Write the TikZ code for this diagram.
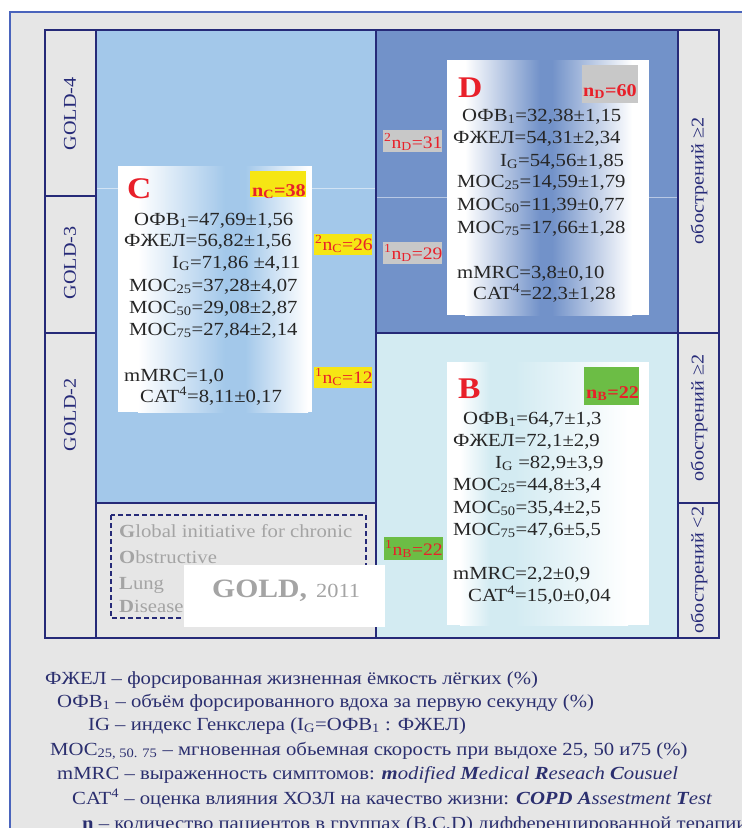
\documentclass[tikz,border=0pt]{standalone}
\usepackage{fontspec}
\setmainfont{Liberation Serif}[FakeStretch=1.12]
\definecolor{bggray}{HTML}{E6E6E6}
\definecolor{framecol}{HTML}{4A64BC}
\definecolor{navy}{HTML}{262A78}
\definecolor{cblue}{HTML}{A3C8EA}
\definecolor{dblue}{HTML}{7292C9}
\definecolor{bcyan}{HTML}{D3EBF2}
\definecolor{ylw}{HTML}{F6E614}
\definecolor{gry}{HTML}{C8C8C8}
\definecolor{grn}{HTML}{6CBD45}
\definecolor{redc}{HTML}{E8202A}
\definecolor{txtdark}{HTML}{262626}
\definecolor{goldgray}{HTML}{A4A4A4}
\definecolor{legcol}{HTML}{2B2F6F}
\tikzset{
  gridline/.style={draw=navy, line width=1.6},
  txt/.style={font=\fontsize{18.5}{20}\selectfont, text=txtdark, inner sep=0, anchor=base west},
  bigletter/.style={font=\fontsize{30}{32}\selectfont\bfseries, text=redc, inner sep=0, anchor=base west},
  nlab/.style={font=\fontsize{18}{20}\selectfont\bfseries, text=redc, inner sep=0, anchor=base west},
  sidelab/.style={font=\fontsize{17.5}{19}\selectfont, text=redc, inner sep=0, anchor=base west},
  rotlab/.style={font=\fontsize{18}{20}\selectfont, text=navy, inner sep=0, rotate=90},
  goldtxt/.style={font=\fontsize{18.5}{20}\selectfont, text=goldgray, inner sep=0, anchor=base west},
  legtxt/.style={font=\fontsize{18.5}{20}\selectfont, text=legcol, inner sep=0, anchor=base west}
}
\begin{document}
\begin{tikzpicture}[x=1pt,y=-1pt]
\useasboundingbox (0,0) rectangle (742,828);
\clip (0,0) rectangle (742,828);
\fill[white] (0,0) rectangle (742,828);
\draw[draw=framecol, line width=1.5, fill=bggray] (10,12) rectangle (800,900);

% regions
\fill[cblue] (96,30) rectangle (376,503);
\fill[dblue] (376,30) rectangle (678,333);
\fill[bcyan] (376,333) rectangle (678,638);
\draw[white, opacity=0.5, line width=0.8] (96,188) -- (376,188);
\draw[white, opacity=0.5, line width=0.8] (376,197) -- (678,197);

% grid
\draw[gridline] (45,30) rectangle (719,638);
\draw[gridline] (96,30) -- (96,638);
\draw[gridline] (376,30) -- (376,638);
\draw[gridline] (678,30) -- (678,638);
\draw[gridline] (45,196) -- (96,196);
\draw[gridline] (45,333) -- (96,333);
\draw[gridline] (96,503) -- (376,503);
\draw[gridline] (376,333) -- (719,333);
\draw[gridline] (678,503) -- (719,503);

% side labels
\node[rotlab] (g4) at (70,114) {GOLD-4};
\node[rotlab] (g3) at (70,263) {GOLD-3};
\node[rotlab] (g2) at (70,415) {GOLD-2};
\node[rotlab] (r1) at (699,181) {обострений ≥2};
\node[rotlab] (r2) at (699,418) {обострений ≥2};
\node[rotlab] (r3) at (699,570) {обострений <2};

% C box
\fill[white] (118,166) rectangle (312,412);
\shade[left color=white, right color=cblue] (138,166) rectangle (225,412);
\fill[cblue] (225,166) rectangle (245,412);
\shade[left color=cblue, right color=white] (245,166) rectangle (308,412);
\node[bigletter] (cL) at (127,198) {C};
\fill[ylw] (250,171) rectangle (306,197);
\node[nlab] (cN) at (252,196) {n\textsubscript{C}=38};
\node[txt] (c1) at (134,225) {ОФВ\textsubscript{1}=47,69±1,56};
\node[txt] (c2) at (124,246) {ФЖЕЛ=56,82±1,56};
\node[txt] (c3) at (172,268) {I\textsubscript{G}=71,86 ±4,11};
\node[txt] (c4) at (129,291) {МОС\textsubscript{25}=37,28±4,07};
\node[txt] (c5) at (129,313) {МОС\textsubscript{50}=29,08±2,87};
\node[txt] (c6) at (129,335) {МОС\textsubscript{75}=27,84±2,14};
\node[txt] (c7) at (124,381) {mMRC=1,0};
\node[txt] (c8) at (140,402) {CAT\textsuperscript{4}=8,11±0,17};

% D box
\fill[white] (447,60) rectangle (649,315);
\shade[left color=white, right color=dblue] (465,60) rectangle (540,315);
\fill[dblue] (540,60) rectangle (552,315);
\shade[left color=dblue, right color=white] (552,60) rectangle (632,315);
\node[bigletter] (dL) at (458,97) {D};
\fill[gry] (582,65) rectangle (638,103);
\node[nlab] (dN) at (583,96) {n\textsubscript{D}=60};
\node[txt] (d1) at (462,121) {ОФВ\textsubscript{1}=32,38±1,15};
\node[txt] (d2) at (453,143) {ФЖЕЛ=54,31±2,34};
\node[txt] (d3) at (500,166) {I\textsubscript{G}=54,56±1,85};
\node[txt] (d4) at (457,187) {МОС\textsubscript{25}=14,59±1,79};
\node[txt] (d5) at (457,210) {МОС\textsubscript{50}=11,39±0,77};
\node[txt] (d6) at (457,233) {МОС\textsubscript{75}=17,66±1,28};
\node[txt] (d7) at (457,278) {mMRC=3,8±0,10};
\node[txt] (d8) at (473,299) {CAT\textsuperscript{4}=22,3±1,28};

% B box
\fill[white] (447,362) rectangle (649,625);
\shade[left color=white, right color=bcyan] (460,362) rectangle (490,625);
\fill[bcyan] (490,362) rectangle (515,625);
\shade[left color=bcyan, right color=white] (515,362) rectangle (628,625);
\node[bigletter] (bL) at (458,398) {B};
\fill[grn] (584,367) rectangle (639,405);
\node[nlab] (bN) at (586,398) {n\textsubscript{B}=22};
\node[txt] (b1) at (463,424) {ОФВ\textsubscript{1}=64,7±1,3};
\node[txt] (b2) at (453,446) {ФЖЕЛ=72,1±2,9};
\node[txt] (b3) at (495,468) {I\textsubscript{G} =82,9±3,9};
\node[txt] (b4) at (453,490) {МОС\textsubscript{25}=44,8±3,4};
\node[txt] (b5) at (453,513) {МОС\textsubscript{50}=35,4±2,5};
\node[txt] (b6) at (453,535) {МОС\textsubscript{75}=47,6±5,5};
\node[txt] (b7) at (453,579) {mMRC=2,2±0,9};
\node[txt] (b8) at (468,601) {CAT\textsuperscript{4}=15,0±0,04};

% small n labels
\fill[ylw] (314,234) rectangle (372,255);
\node[sidelab] (s1) at (315,250) {\textsuperscript{2}n\textsubscript{C}=26};
\fill[ylw] (314,367) rectangle (372,388);
\node[sidelab] (s2) at (315,383) {\textsuperscript{1}n\textsubscript{C}=12};
\fill[gry] (383,130) rectangle (442,152);
\node[sidelab] (s3) at (384,148) {\textsuperscript{2}n\textsubscript{D}=31};
\fill[gry] (383,242) rectangle (442,264);
\node[sidelab] (s4) at (384,259) {\textsuperscript{1}n\textsubscript{D}=29};
\fill[grn] (384,537) rectangle (443,560);
\node[sidelab] (s5) at (385,555) {\textsuperscript{1}n\textsubscript{B}=22};

% GOLD block
\draw[navy, line width=1.2, dash pattern=on 5pt off 3pt] (111,515) rectangle (366,618);
\node[goldtxt] (gt1) at (119,537) {\textbf{G}lobal initiative for chronic};
\node[goldtxt] (gt2) at (119,563) {\textbf{O}bstructive};
\node[goldtxt] (gt3) at (119,589) {\textbf{L}ung};
\node[goldtxt] (gt4) at (119,612) {\textbf{D}isease};
\fill[white] (184,565) rectangle (385,627);
\node[font=\fontsize{26.5}{29}\selectfont\bfseries, text=goldgray, inner sep=0, anchor=base west] (gy) at (212,597) {GOLD,};
\node[font=\fontsize{20}{22}\selectfont, text=goldgray, inner sep=0, anchor=base west] (gy2) at (316,597) {2011};

% legend
\node[legtxt] (l1) at (45,684) {ФЖЕЛ – форсированная жизненная ёмкость лёгких (\%)};
\node[legtxt] (l2) at (57,707) {ОФВ\textsubscript{1} – объём форсированного вдоха за первую секунду (\%)};
\node[legtxt] (l3) at (88,730) {IG – индекс Генкслера (I\textsubscript{G}=ОФВ\textsubscript{1} : ФЖЕЛ)};
\node[legtxt] (l4) at (50,755) {МОС\textsubscript{25, 50. 75} – мгновенная обьемная скорость при выдохе 25, 50 и75 (\%)};
\node[legtxt] (l5) at (57,779) {mMRC – выраженность симптомов: \textit{\textbf{m}odified \textbf{M}edical \textbf{R}eseach \textbf{C}ousuel}};
\node[legtxt] (l6) at (72,804) {CAT\textsuperscript{4} – оценка влияния ХОЗЛ на качество жизни: \textit{\textbf{COPD A}ssestment \textbf{T}est}};
\node[legtxt] (l7) at (82,829) {\textbf{n} – количество пациентов в группах (В,С,D) дифференцированной терапии};
\end{tikzpicture}
\end{document}
